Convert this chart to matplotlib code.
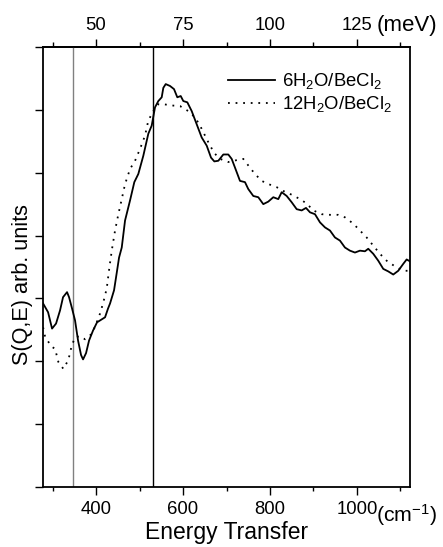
import matplotlib
matplotlib.use("Agg")
import matplotlib.pyplot as plt
import numpy as np

plt.rcParams['font.family'] = ['Liberation Sans', 'DejaVu Sans']
plt.rcParams['mathtext.default'] = 'regular'

# Energy transfer (cm^-1) and intensities (arb. units)
x_6h2o = [278.2, 289.7, 298.8, 308.0, 317.2, 324.1, 333.3, 337.9, 344.8, 351.7,
          358.6, 365.5, 370.1, 377.0, 383.9, 393.1, 402.3, 409.2, 420.7, 427.6,
          432.2, 441.4, 448.3, 452.9, 459.1, 466.7, 478.2, 488.0, 497.2, 508.7,
          520.2, 528.0, 535.6, 543.2, 551.0, 554.7, 560.2, 570.1, 579.3, 586.9,
          594.7, 600.7, 609.9, 620.0, 631.5, 643.0, 654.5, 664.4, 672.0, 681.2,
          692.7, 704.1, 711.9, 719.6, 731.0, 742.5, 750.1, 761.6, 773.1, 784.6,
          796.1, 807.6, 819.1, 826.9, 838.4, 849.9, 861.4, 872.9, 882.8, 892.0,
          903.5, 915.0, 926.5, 938.0, 949.4, 960.9, 972.4, 983.9, 995.4, 1006.9,
          1018.4, 1026.0, 1037.5, 1049.0, 1060.5, 1072.0, 1083.5, 1095.0, 1106.5,
          1114.3, 1121.9]
y_6h2o = [2.92, 2.78, 2.52, 2.60, 2.81, 3.02, 3.10, 3.02, 2.84, 2.65,
          2.33, 2.10, 2.03, 2.13, 2.33, 2.49, 2.62, 2.65, 2.70, 2.84,
          2.92, 3.13, 3.44, 3.65, 3.81, 4.24, 4.56, 4.85, 4.98, 5.27,
          5.62, 5.75, 6.04, 6.14, 6.20, 6.35, 6.41, 6.38, 6.33, 6.20,
          6.22, 6.14, 6.12, 5.98, 5.77, 5.56, 5.43, 5.24, 5.18, 5.19,
          5.29, 5.29, 5.22, 5.08, 4.87, 4.85, 4.74, 4.63, 4.61, 4.50,
          4.54, 4.61, 4.58, 4.69, 4.63, 4.53, 4.42, 4.40, 4.44, 4.37,
          4.34, 4.21, 4.13, 4.08, 3.97, 3.92, 3.81, 3.76, 3.73, 3.76,
          3.75, 3.79, 3.71, 3.60, 3.47, 3.43, 3.38, 3.44, 3.55,
          3.62, 3.59]

x_12h2o = [278.2, 282.8, 290.3, 298.2, 305.7, 313.3, 324.8, 336.3, 344.1, 351.7,
           363.2, 374.7, 386.2, 393.8, 401.6, 409.2, 416.8, 424.6, 431.0, 436.8,
           443.7, 451.3, 459.1, 466.7, 478.2, 489.7, 501.2, 512.6, 520.2, 531.7,
           543.2, 554.7, 574.0, 593.1, 612.2, 627.6, 639.1, 650.6, 662.1, 673.6,
           685.1, 704.1, 723.5, 738.6, 754.0, 765.5, 780.9, 796.1, 815.4, 830.6,
           849.9, 869.0, 884.4, 899.6, 918.9, 938.0, 957.0, 972.4, 991.5, 1006.9,
           1022.3, 1037.5, 1052.9, 1068.3, 1087.4, 1106.5, 1121.9]
y_12h2o = [2.54, 2.39, 2.31, 2.23, 2.20, 1.99, 1.88, 2.02, 2.25, 2.38,
           2.40, 2.35, 2.41, 2.49, 2.62, 2.76, 2.94, 3.16, 3.51, 3.79,
           4.08, 4.34, 4.58, 4.82, 5.06, 5.19, 5.38, 5.59, 5.83, 5.98,
           6.09, 6.09, 6.07, 6.06, 5.98, 5.88, 5.75, 5.59, 5.43, 5.30,
           5.22, 5.17, 5.20, 5.22, 5.08, 4.98, 4.87, 4.82, 4.77, 4.71,
           4.65, 4.58, 4.51, 4.40, 4.34, 4.33, 4.33, 4.29, 4.19, 4.08,
           3.97, 3.84, 3.71, 3.60, 3.51, 3.44, 3.44]

vlines_cm = [348, 530]
vline_colors = ['#808080', 'black']

bottom_major = [400, 600, 800, 1000]
bottom_minor = [300, 500, 700, 900, 1100]
top_major = [50, 75, 100, 125]
top_minor = [37.5, 62.5, 87.5, 112.5, 137.5]
cm_per_mev = 8.0

labels = ['6H$_2$O/BeCl$_2$', '12H$_2$O/BeCl$_2$']

fig = plt.figure(figsize=(4.43, 5.47), dpi=100)
ax = fig.add_axes([43/443, 60/547, 367/443, 440/547])

for xv, c in zip(vlines_cm, vline_colors):
    ax.axvline(xv, color=c, lw=1.0)

ax.plot(x_6h2o, y_6h2o, color='black', lw=1.3, label=labels[0])
ax.plot(x_12h2o, y_12h2o, color='black', lw=1.3, linestyle=(0, (1, 3.2)), label=labels[1])

ax.set_xlim(278, 1122)
ax.set_ylim(0, 7)
ax.set_yticks(np.arange(0, 8, 1))
ax.set_yticklabels([])
ax.set_xticks(bottom_major)
ax.set_xticks(bottom_minor, minor=True)
ax.set_xticklabels([str(v) for v in bottom_major])

for s in ax.spines.values():
    s.set_linewidth(1.3)

ax.tick_params(axis='x', which='major', direction='out', length=6, width=1.0,
               labelsize=13.3, pad=4)
ax.tick_params(axis='x', which='minor', direction='out', length=3, width=1.0)
ax.tick_params(axis='y', which='major', direction='out', length=6, width=1.0, left=True, right=False)

sec = ax.secondary_xaxis('top', functions=(lambda x: x / cm_per_mev, lambda m: m * cm_per_mev))
sec.set_xticks(top_major)
sec.set_xticks(top_minor, minor=True)
sec.set_xticklabels([str(v) for v in top_major])
sec.tick_params(axis='x', which='major', direction='out', length=6, width=1.0, labelsize=13.3, pad=3)
sec.tick_params(axis='x', which='minor', direction='out', length=3.5, width=1.0)
sec.spines['top'].set_linewidth(1.3)

ax.set_xlabel('Energy Transfer', fontsize=16.5, labelpad=2)
ax.set_ylabel('S(Q,E) arb. units', fontsize=15.6)
ax.yaxis.set_label_coords(-0.027, 0.46)

fig.text(437/443, 1 - 515/547, '(cm$^{-1}$)', fontsize=15.3, ha='right', va='center')
fig.text(437/443, 1 - 26/547, '(meV)', fontsize=16, ha='right', va='center')

leg = ax.legend(loc='upper left', bbox_to_anchor=(0.504, 0.945), frameon=False,
                fontsize=13.3, handlelength=2.55, handletextpad=0.38,
                labelspacing=0.15, borderaxespad=0, borderpad=0)

fig.savefig('out.png', dpi=100)
